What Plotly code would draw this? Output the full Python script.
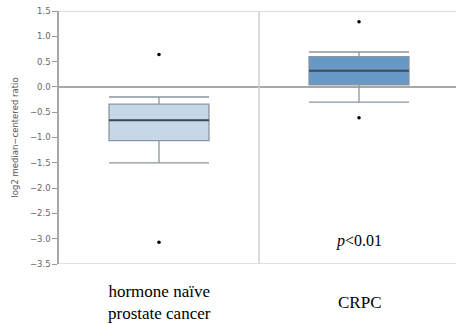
import plotly.graph_objects as go

# Summary statistics per group (log2 median-centered ratio)
groups = ["hormone naïve<br>prostate cancer", "CRPC"]
upper_whisker = [-0.20, 0.69]
q3 = [-0.34, 0.60]
median = [-0.66, 0.32]
q1 = [-1.06, 0.04]
lower_whisker = [-1.50, -0.30]
outliers = [[0.64, -3.07], [1.29, -0.61]]
fills = ["#c6d7e8", "#6699c5"]

y_ticks = [1.5, 1.0, 0.5, 0.0, -0.5, -1.0, -1.5, -2.0, -2.5, -3.0, -3.5]

xpos = list(range(len(groups)))
half = 0.25

fig = go.Figure()

for i in xpos:
    fig.add_trace(go.Box(
        x=[i], q1=[q1[i]], median=[median[i]], q3=[q3[i]],
        lowerfence=[lower_whisker[i]], upperfence=[upper_whisker[i]],
        width=2 * half, whiskerwidth=1,
        fillcolor=fills[i],
        line=dict(color="#8a96a2", width=1.3),
        boxpoints=False, showlegend=False, hoverinfo="skip",
    ))
    # darker median bar
    fig.add_trace(go.Scatter(
        x=[i - half, i + half], y=[median[i], median[i]], mode="lines",
        line=dict(color="#3b4856", width=2), showlegend=False, hoverinfo="skip",
    ))
    fig.add_trace(go.Scatter(
        x=[i] * len(outliers[i]), y=outliers[i], mode="markers",
        marker=dict(color="black", size=3.5), showlegend=False, hoverinfo="skip",
    ))

# zero reference line, group divider and frame lines
fig.add_hline(y=0, line=dict(color="#8c8c8c", width=1.5), layer="below")
fig.add_vline(x=0.5, line=dict(color="#cfcfcf", width=1.5), layer="below")
fig.add_hline(y=1.5, line=dict(color="#d6d6d6", width=1.5), layer="below")
fig.add_hline(y=-3.5, line=dict(color="#d6d6d6", width=1.5), layer="below")

for i in xpos:
    fig.add_annotation(
        x=i, y=-0.152, xref="x", yref="paper", text=groups[i],
        showarrow=False, yanchor="middle", align="center",
        font=dict(family="Liberation Serif", size=17, color="black"),
    )

fig.add_annotation(
    x=1, y=-3.04, xref="x", yref="y", text="<i>p</i><0.01",
    showarrow=False, font=dict(family="Liberation Serif", size=16, color="black"),
)

fig.update_layout(
    width=456, height=324,
    margin=dict(l=59, r=0, t=11, b=60),
    paper_bgcolor="white", plot_bgcolor="white",
    xaxis=dict(range=[-0.5, 1.485], showticklabels=False, showgrid=False,
               zeroline=False, showline=False, fixedrange=True),
    yaxis=dict(range=[-3.5, 1.5], tickvals=y_ticks,
               ticktext=[f"{v:.1f}".replace("-", "\u2212") for v in y_ticks],
               ticks="outside", ticklen=5, tickcolor="#9a9a9a",
               tickfont=dict(family="DejaVu Sans", size=8.5, color="#666666"),
               showgrid=False, zeroline=False,
               showline=True, linecolor="#a8a8a8", linewidth=1.5,
               title=dict(text="log2 median\u2212centered ratio", standoff=10,
                          font=dict(family="DejaVu Sans", size=8.5, color="#555555"))),
)

fig.write_html("out.html")
